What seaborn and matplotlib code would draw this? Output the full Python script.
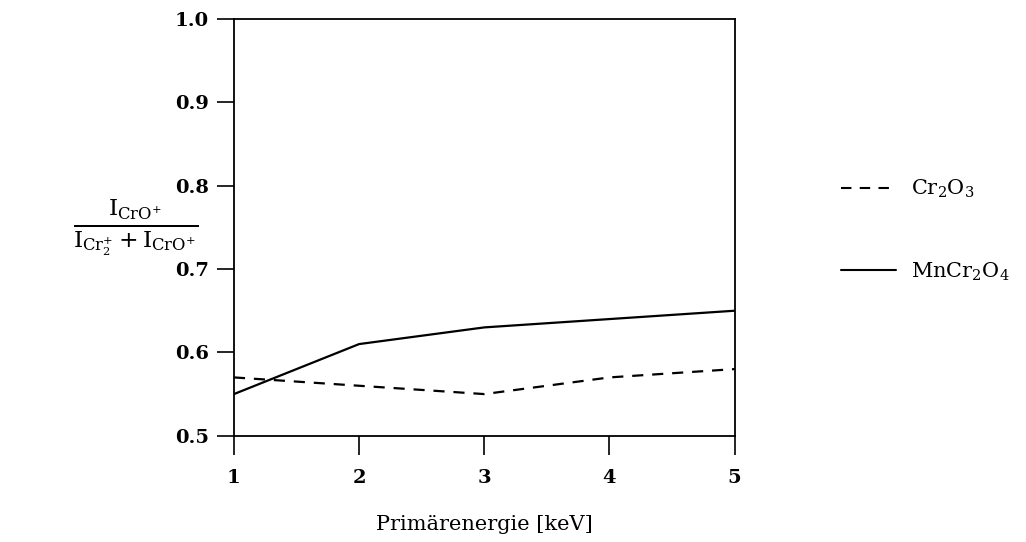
import matplotlib
matplotlib.use("Agg")
import matplotlib.pyplot as plt
from matplotlib.lines import Line2D
import seaborn as sns
import pandas as pd

# Primary energy [keV] and CrO+ intensity ratios
energy = [1, 2, 3, 4, 5]
cr2o3 = [0.57, 0.56, 0.55, 0.57, 0.58]
mncr2o4 = [0.55, 0.61, 0.63, 0.64, 0.65]
series_labels = [r"$\mathrm{Cr_2O_3}$", r"$\mathrm{MnCr_2O_4}$"]
yticks = [0.5, 0.6, 0.7, 0.8, 0.9, 1.0]

df = pd.DataFrame({
    "E": energy * 2,
    "ratio": cr2o3 + mncr2o4,
    "probe": [series_labels[0]] * 5 + [series_labels[1]] * 5,
})

sns.set_theme(style="white")
plt.rcParams["font.family"] = ["DejaVu Serif"]
plt.rcParams["mathtext.fontset"] = "dejavuserif"
plt.rcParams["text.color"] = "black"
plt.rcParams["axes.labelcolor"] = "black"

fig = plt.figure(figsize=(10.26, 5.42), dpi=100)
ax = fig.add_axes([0.228, 0.196, 0.488, 0.769])

sns.lineplot(data=df, x="E", y="ratio", hue="probe", style="probe",
             palette=["black", "black"],
             dashes={series_labels[0]: (5, 4), series_labels[1]: ""},
             linewidth=1.6, ax=ax, legend=False)

ax.set_xlim(1, 5)
ax.set_ylim(0.5, 1.0)
ax.set_xticks(energy)
ax.set_yticks(yticks)
ax.set_xticklabels([str(e) for e in energy], fontsize=14, fontweight="semibold")
ax.set_yticklabels([f"{v:.1f}" for v in yticks], fontsize=14, fontweight="semibold")
for s in ax.spines.values():
    s.set_color("black")
    s.set_linewidth(1.3)
ax.tick_params(axis="both", direction="out", bottom=True, left=True,
               width=1.2, color="black", labelcolor="black")
ax.tick_params(axis="y", length=12, pad=6)
ax.tick_params(axis="x", length=14, pad=10)

ax.set_xlabel("Primärenergie [keV]", fontsize=15, labelpad=20)
ax.set_ylabel(r"$\frac{\mathrm{I_{CrO^{+}}}}{\mathrm{I_{Cr_2^{+}}+I_{CrO^{+}}}}$",
              fontsize=24, rotation=0, labelpad=28, va="center")

handles = [Line2D([], [], color="black", lw=1.5, dashes=(5, 4)),
           Line2D([], [], color="black", lw=1.5)]
fig.legend(handles, series_labels, loc="upper left",
           bbox_to_anchor=(0.812, 0.687), frameon=False, fontsize=15,
           handlelength=2.6, handletextpad=0.75, labelspacing=2.9,
           borderaxespad=0)

fig.savefig("out.png", dpi=100)
